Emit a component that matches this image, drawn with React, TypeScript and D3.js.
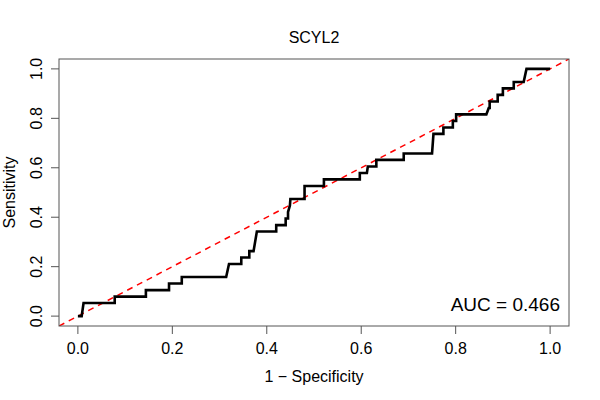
import React, { useEffect, useRef } from 'react';
import * as d3 from 'd3';

// ROC points (1 - specificity, sensitivity)
const fpr = [
  0, 0.008, 0.012, 0.078, 0.078, 0.144, 0.144, 0.193, 0.193, 0.22, 0.22,
  0.314, 0.32, 0.346, 0.346, 0.363, 0.363, 0.372, 0.379, 0.42, 0.42, 0.44,
  0.44, 0.445, 0.445, 0.449, 0.45, 0.48, 0.48, 0.521, 0.521, 0.597, 0.597,
  0.612, 0.614, 0.632, 0.632, 0.69, 0.69, 0.75, 0.753, 0.774, 0.774, 0.794,
  0.794, 0.801, 0.801, 0.865, 0.87, 0.872, 0.872, 0.889, 0.889, 0.9, 0.9,
  0.923, 0.923, 0.944, 0.95, 1,
];
const sensitivity = [
  0, 0, 0.053, 0.053, 0.079, 0.079, 0.105, 0.105, 0.132, 0.132, 0.158,
  0.158, 0.211, 0.211, 0.237, 0.237, 0.263, 0.263, 0.342, 0.342, 0.368, 0.368,
  0.395, 0.395, 0.421, 0.447, 0.474, 0.474, 0.526, 0.526, 0.553, 0.553, 0.579,
  0.579, 0.605, 0.605, 0.632, 0.632, 0.658, 0.658, 0.737, 0.737, 0.763, 0.763,
  0.789, 0.789, 0.816, 0.816, 0.842, 0.842, 0.868, 0.868, 0.895, 0.895, 0.921,
  0.921, 0.947, 0.947, 1, 1,
];
const ticks = [0, 0.2, 0.4, 0.6, 0.8, 1.0];
const title = 'SCYL2';
const aucLabel = 'AUC = 0.466';

const FONT = '"Liberation Sans", Arial, Helvetica, sans-serif';

const App: React.FC = () => {
  const svgRef = useRef<SVGSVGElement>(null);

  useEffect(() => {
    if (!svgRef.current) return;
    const svg = d3.select(svgRef.current);
    svg.selectAll('*').remove();

    const box = { left: 59, right: 569, top: 59, bottom: 326 };

    // R-style 4% padding around [0, 1]
    const x = d3.scaleLinear().domain([-0.04, 1.04]).range([box.left, box.right]);
    const y = d3.scaleLinear().domain([-0.04, 1.04]).range([box.bottom, box.top]);

    const points = fpr.map((f, i) => [f, sensitivity[i]] as [number, number]);

    svg.append('defs').append('clipPath').attr('id', 'plot-clip')
      .append('rect')
      .attr('x', box.left).attr('y', box.top)
      .attr('width', box.right - box.left).attr('height', box.bottom - box.top);

    // reference diagonal
    svg.append('line')
      .attr('clip-path', 'url(#plot-clip)')
      .attr('x1', x(-0.04)).attr('y1', y(-0.04))
      .attr('x2', x(1.04)).attr('y2', y(1.04))
      .attr('stroke', '#ff0000')
      .attr('stroke-width', 1.5)
      .attr('stroke-dasharray', '6,5');

    // ROC curve
    const line = d3.line<[number, number]>().x(d => x(d[0])).y(d => y(d[1]));
    svg.append('path')
      .datum(points)
      .attr('d', line)
      .attr('fill', 'none')
      .attr('stroke', '#000')
      .attr('stroke-width', 2.6)
      .attr('stroke-linejoin', 'miter');

    // box
    svg.append('rect')
      .attr('x', box.left).attr('y', box.top)
      .attr('width', box.right - box.left).attr('height', box.bottom - box.top)
      .attr('fill', 'none')
      .attr('stroke', '#555')
      .attr('stroke-width', 1);

    // x axis
    const xAxis = svg.append('g').attr('transform', `translate(0,${box.bottom})`);
    xAxis.selectAll('line').data(ticks).enter().append('line')
      .attr('x1', d => x(d)).attr('x2', d => x(d))
      .attr('y1', 0).attr('y2', 8)
      .attr('stroke', '#555');
    xAxis.selectAll('text').data(ticks).enter().append('text')
      .attr('x', d => x(d)).attr('y', 28)
      .attr('text-anchor', 'middle')
      .style('font-family', FONT).style('font-size', '16px')
      .text(d => d.toFixed(1));

    // y axis
    const yAxis = svg.append('g');
    yAxis.selectAll('line').data(ticks).enter().append('line')
      .attr('x1', box.left - 8).attr('x2', box.left)
      .attr('y1', d => y(d)).attr('y2', d => y(d))
      .attr('stroke', '#555');
    yAxis.selectAll('text').data(ticks).enter().append('text')
      .attr('transform', d => `translate(42,${y(d)}) rotate(-90)`)
      .attr('text-anchor', 'middle')
      .style('font-family', FONT).style('font-size', '16px')
      .text(d => d.toFixed(1));

    const cx = (box.left + box.right) / 2;
    const cy = (box.top + box.bottom) / 2;

    svg.append('text')
      .attr('x', cx).attr('y', 43)
      .attr('text-anchor', 'middle')
      .style('font-family', FONT).style('font-size', '16px')
      .text(title);

    svg.append('text')
      .attr('x', cx).attr('y', 382)
      .attr('text-anchor', 'middle')
      .style('font-family', FONT).style('font-size', '16px')
      .text('1 \u2212 Specificity');

    svg.append('text')
      .attr('transform', `translate(15,${cy}) rotate(-90)`)
      .attr('text-anchor', 'middle')
      .style('font-family', FONT).style('font-size', '16px')
      .text('Sensitivity');

    svg.append('text')
      .attr('x', 560).attr('y', 311)
      .attr('text-anchor', 'end')
      .style('font-family', FONT).style('font-size', '19px')
      .text(aucLabel);
  }, []);

  return (
    <svg
      ref={svgRef}
      width={600}
      height={400}
      style={{ position: 'absolute', left: 0, top: 0, background: '#fff' }}
    />
  );
};

export default App;
